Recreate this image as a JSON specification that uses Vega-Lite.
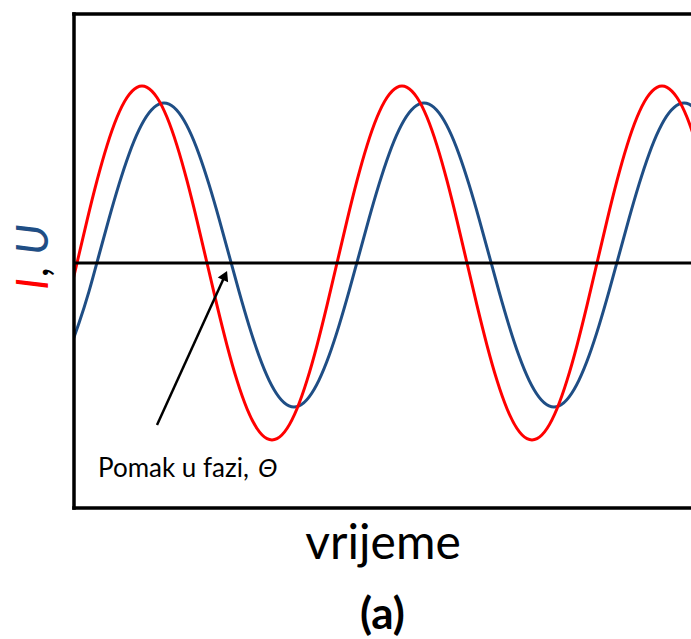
{
  "$schema": "https://vega.github.io/schema/vega-lite/v6.json",
  "width": 617,
  "height": 494,
  "autosize": {"type": "none"},
  "padding": {"left": 74, "top": 14, "right": 0, "bottom": 131},
  "background": "white",
  "config": {
    "view": {"stroke": null},
    "axisX": {"domain": false, "ticks": false, "labels": false, "grid": false, "titleFont": "Lato", "titleFontSize": 48, "titleFontWeight": "normal", "titleColor": "black", "titleBaseline": "alphabetic", "titlePadding": 50}
  },
  "title": {"text": "(a)", "orient": "bottom", "anchor": "middle", "font": "Lato", "fontSize": 44, "fontWeight": "bold", "color": "black", "offset": 26},
  "data": {"values": [{}]},
  "datasets": {
    "U": [
      {"t": -5, "v": -88}, {"t": 5, "v": -60}, {"t": 15, "v": -28.4}, {"t": 25, "v": 8}, {"t": 35, "v": 44.4}, {"t": 45, "v": 78.6}, {"t": 55, "v": 108.8}, {"t": 65, "v": 133.1}, {"t": 75, "v": 150.1}, {"t": 85, "v": 158.9}, {"t": 95, "v": 158.9}, {"t": 105, "v": 150.1}, {"t": 115, "v": 133.1}, {"t": 125, "v": 108.8}, {"t": 135, "v": 78.6}, {"t": 145, "v": 44.4}, {"t": 155, "v": 8}, {"t": 165, "v": -28.4}, {"t": 175, "v": -62.6}, {"t": 185, "v": -92.8}, {"t": 195, "v": -117.1}, {"t": 205, "v": -134.1}, {"t": 215, "v": -142.9}, {"t": 225, "v": -142.9}, {"t": 235, "v": -134.1}, {"t": 245, "v": -117.1}, {"t": 255, "v": -92.8}, {"t": 265, "v": -62.6}, {"t": 275, "v": -28.4}, {"t": 285, "v": 8}, {"t": 295, "v": 44.4}, {"t": 305, "v": 78.6}, {"t": 315, "v": 108.8}, {"t": 325, "v": 133.1}, {"t": 335, "v": 150.1}, {"t": 345, "v": 158.9}, {"t": 355, "v": 158.9}, {"t": 365, "v": 150.1}, {"t": 375, "v": 133.1}, {"t": 385, "v": 108.8}, {"t": 395, "v": 78.6}, {"t": 405, "v": 44.4}, {"t": 415, "v": 8}, {"t": 425, "v": -28.4}, {"t": 435, "v": -62.6}, {"t": 445, "v": -92.8}, {"t": 455, "v": -117.1}, {"t": 465, "v": -134.1}, {"t": 475, "v": -142.9}, {"t": 485, "v": -142.9}, {"t": 495, "v": -134.1}, {"t": 505, "v": -117.1}, {"t": 515, "v": -92.8}, {"t": 525, "v": -62.6}, {"t": 535, "v": -28.4}, {"t": 545, "v": 8}, {"t": 555, "v": 44.4}, {"t": 565, "v": 78.6}, {"t": 575, "v": 108.8}, {"t": 585, "v": 133.1}, {"t": 595, "v": 150.1}, {"t": 605, "v": 158.9}, {"t": 615, "v": 158.9}, {"t": 625, "v": 150.1}
    ],
    "I": [
      {"t": -7, "v": -42.4}, {"t": 3, "v": 0}, {"t": 13, "v": 42.4}, {"t": 23, "v": 82.3}, {"t": 33, "v": 117.4}, {"t": 43, "v": 145.7}, {"t": 53, "v": 165.5}, {"t": 63, "v": 175.7}, {"t": 73, "v": 175.7}, {"t": 83, "v": 165.5}, {"t": 93, "v": 145.7}, {"t": 103, "v": 117.4}, {"t": 113, "v": 82.3}, {"t": 123, "v": 42.4}, {"t": 133, "v": 0}, {"t": 143, "v": -42.4}, {"t": 153, "v": -82.3}, {"t": 163, "v": -117.4}, {"t": 173, "v": -145.7}, {"t": 183, "v": -165.5}, {"t": 193, "v": -175.7}, {"t": 203, "v": -175.7}, {"t": 213, "v": -165.5}, {"t": 223, "v": -145.7}, {"t": 233, "v": -117.4}, {"t": 243, "v": -82.3}, {"t": 253, "v": -42.4}, {"t": 263, "v": 0}, {"t": 273, "v": 42.4}, {"t": 283, "v": 82.3}, {"t": 293, "v": 117.4}, {"t": 303, "v": 145.7}, {"t": 313, "v": 165.5}, {"t": 323, "v": 175.7}, {"t": 333, "v": 175.7}, {"t": 343, "v": 165.5}, {"t": 353, "v": 145.7}, {"t": 363, "v": 117.4}, {"t": 373, "v": 82.3}, {"t": 383, "v": 42.4}, {"t": 393, "v": 0}, {"t": 403, "v": -42.4}, {"t": 413, "v": -82.3}, {"t": 423, "v": -117.4}, {"t": 433, "v": -145.7}, {"t": 443, "v": -165.5}, {"t": 453, "v": -175.7}, {"t": 463, "v": -175.7}, {"t": 473, "v": -165.5}, {"t": 483, "v": -145.7}, {"t": 493, "v": -117.4}, {"t": 503, "v": -82.3}, {"t": 513, "v": -42.4}, {"t": 523, "v": 0}, {"t": 533, "v": 42.4}, {"t": 543, "v": 82.3}, {"t": 553, "v": 117.4}, {"t": 563, "v": 145.7}, {"t": 573, "v": 165.5}, {"t": 583, "v": 175.7}, {"t": 593, "v": 175.7}, {"t": 603, "v": 165.5}, {"t": 613, "v": 145.7}, {"t": 623, "v": 117.4}
    ]
  },
  "layer": [
    {
      "data": {"name": "U"},
      "mark": {"type": "line", "color": "#1f4e85", "strokeWidth": 3, "interpolate": "natural", "clip": true},
      "encoding": {
        "x": {"field": "t", "type": "quantitative", "title": "vrijeme", "scale": {"domain": [0, 617], "nice": false, "zero": false}},
        "y": {"field": "v", "type": "quantitative", "scale": {"domain": [-245, 249], "nice": false, "zero": false}, "axis": null}
      }
    },
    {
      "data": {"name": "I"},
      "mark": {"type": "line", "color": "#ff0000", "strokeWidth": 3, "interpolate": "natural", "clip": true},
      "encoding": {
        "x": {"field": "t", "type": "quantitative", "title": "vrijeme"},
        "y": {"field": "v", "type": "quantitative", "axis": null}
      }
    },
    {
      "mark": {"type": "rule", "color": "black", "strokeWidth": 3},
      "encoding": {"y": {"datum": 0, "type": "quantitative", "axis": null}}
    },
    {
      "mark": {"type": "rule", "color": "black", "strokeWidth": 3.5, "strokeCap": "square"},
      "encoding": {"x": {"datum": 0, "type": "quantitative", "title": "vrijeme"}}
    },
    {
      "mark": {"type": "rule", "color": "black", "strokeWidth": 3.5, "strokeCap": "square"},
      "encoding": {"y": {"datum": 249, "type": "quantitative", "axis": null}}
    },
    {
      "mark": {"type": "rule", "color": "black", "strokeWidth": 3.5, "strokeCap": "square"},
      "encoding": {"y": {"datum": -245, "type": "quantitative", "axis": null}}
    },
    {
      "mark": {"type": "rule", "color": "black", "strokeWidth": 2.5},
      "encoding": {
        "x": {"datum": 83, "type": "quantitative", "title": "vrijeme"},
        "y": {"datum": -162, "type": "quantitative", "axis": null},
        "x2": {"datum": 151},
        "y2": {"datum": -12.5}
      }
    },
    {
      "mark": {"type": "point", "shape": "triangle-up", "filled": true, "color": "black", "opacity": 1, "size": 130, "angle": 24.6},
      "encoding": {
        "x": {"datum": 151, "type": "quantitative", "title": "vrijeme"},
        "y": {"datum": -12.5, "type": "quantitative", "axis": null}
      }
    },
    {
      "mark": {"type": "text", "text": "Pomak u fazi,", "font": "Lato", "fontSize": 26, "color": "black", "align": "left", "baseline": "alphabetic"},
      "encoding": {
        "x": {"datum": 24, "type": "quantitative", "title": "vrijeme"},
        "y": {"datum": -214, "type": "quantitative", "axis": null}
      }
    },
    {
      "mark": {"type": "text", "text": "Θ", "font": "Lato", "fontSize": 26, "fontStyle": "italic", "color": "black", "align": "left", "baseline": "alphabetic"},
      "encoding": {
        "x": {"datum": 184, "type": "quantitative", "title": "vrijeme"},
        "y": {"datum": -214, "type": "quantitative", "axis": null}
      }
    },
    {
      "mark": {"type": "text", "text": "I", "font": "Lato", "fontSize": 45, "fontStyle": "italic", "color": "#ff0000", "angle": 270, "align": "left", "baseline": "alphabetic"},
      "encoding": {
        "x": {"datum": -26, "type": "quantitative", "title": "vrijeme"},
        "y": {"datum": -27, "type": "quantitative", "axis": null}
      }
    },
    {
      "mark": {"type": "text", "text": ",", "font": "Lato", "fontSize": 45, "fontStyle": "italic", "color": "black", "angle": 270, "align": "left", "baseline": "alphabetic"},
      "encoding": {
        "x": {"datum": -26, "type": "quantitative", "title": "vrijeme"},
        "y": {"datum": -13, "type": "quantitative", "axis": null}
      }
    },
    {
      "mark": {"type": "text", "text": "U", "font": "Lato", "fontSize": 45, "fontStyle": "italic", "color": "#1f4e85", "angle": 270, "align": "left", "baseline": "alphabetic"},
      "encoding": {
        "x": {"datum": -26, "type": "quantitative", "title": "vrijeme"},
        "y": {"datum": 8, "type": "quantitative", "axis": null}
      }
    }
  ]
}
